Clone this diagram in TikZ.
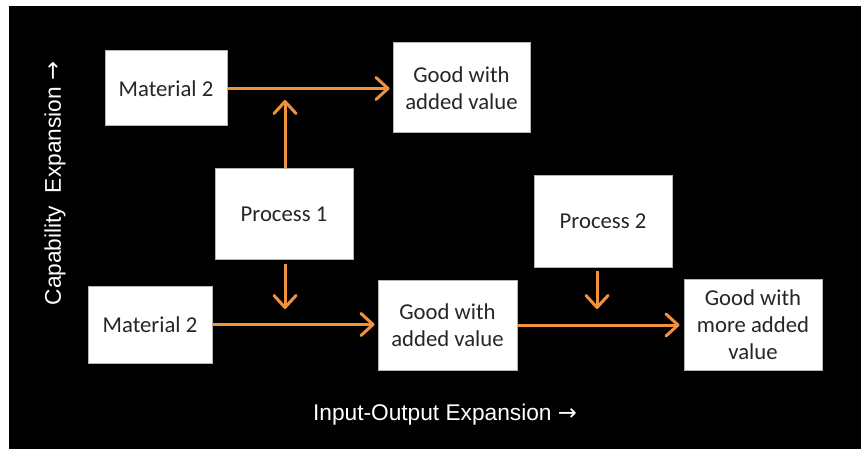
\documentclass[tikz,border=0pt]{standalone}
\usepackage{fontspec}
\setmainfont{Carlito}
\newfontfamily\labfont{Liberation Sans}
\newfontfamily\arrfont{DejaVu Sans}
\usetikzlibrary{arrows.meta}
\definecolor{arrorange}{HTML}{F0913C}
\definecolor{boxtext}{HTML}{262626}
\definecolor{boxline}{HTML}{B4B4B4}
\newcommand{\axarrow}{{\arrfont →}}
\begin{document}
\begin{tikzpicture}[x=1pt,y=-1pt,
  boxnode/.style={draw=boxline, line width=1pt, fill=white, text=boxtext, align=center,
    font=\fontsize{22.7}{27}\selectfont, inner sep=0pt},
  flow/.style={draw=arrorange, line width=3pt,
    -{Straight Barb[length=12pt,width=22pt,line width=3pt,round]}},
  axislabel/.style={text=white, font=\labfont\fontsize{22.7}{27}\selectfont, inner sep=0pt}]
\fill[white] (0,0) rectangle (861,449);
\fill[black] (9,6) rectangle (861,449);
\node[boxnode, minimum width=122pt, minimum height=75pt] (m1) at (166,88.5) {Material 2};
\node[boxnode, minimum width=137pt, minimum height=90pt] (g1) at (461.5,88) {Good with\\added value};
\node[boxnode, minimum width=138pt, minimum height=91pt] (p1) at (284,214) {Process 1};
\node[boxnode, minimum width=124pt, minimum height=77pt] (m2) at (150,324.5) {Material 2};
\node[boxnode, minimum width=139pt, minimum height=90pt] (g2) at (447.5,325) {Good with\\added value};
\node[boxnode, minimum width=138pt, minimum height=91pt] (p2) at (603,221.5) {Process 2};
\node[boxnode, minimum width=138pt, minimum height=91pt] (g3) at (753,324.5) {Good with\\more added\\value};
\coordinate (u1) at (285,100);
\coordinate (d1) at (285,309);
\coordinate (d2) at (597,309);
\draw[flow, shorten >=3pt] (m1.east) -- (g1.west |- m1.east);
\draw[flow] (u1 |- p1.north) -- (u1);
\draw[flow] ([yshift=-4pt]d1 |- p1.south) -- (d1);
\draw[flow, shorten >=3pt] (m2.east) -- (g2.west |- m2.east);
\draw[flow] ([yshift=-3pt]d2 |- p2.south) -- (d2);
\draw[flow, shorten >=4pt] (g2.east) -- (g3.west |- g2.east);
\node[axislabel, rotate=90] (yl) at (55,183.5) {Capability\ \ Expansion \axarrow};
\node[axislabel] (xl) at (445,415) {Input-Output Expansion \axarrow};
\end{tikzpicture}
\end{document}
